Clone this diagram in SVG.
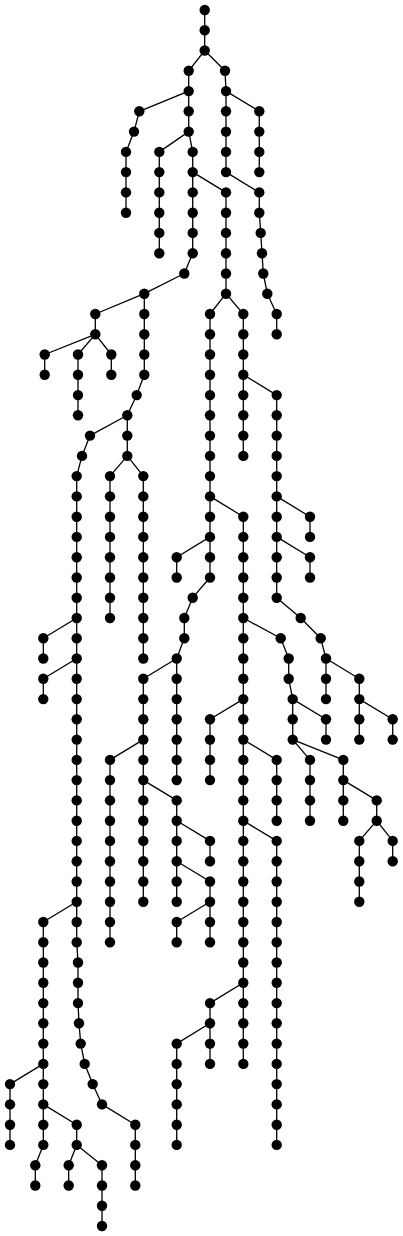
<svg xmlns="http://www.w3.org/2000/svg" width="403" height="1236" viewBox="0 0 403 1236">
<style>
.e path{fill:none;stroke:#000;stroke-width:1.3;stroke-linejoin:round}
circle{fill:#000}
</style>
<rect width="403" height="1236" fill="#fff"/>
<g id="connectors" class="e">
<path d="M204.7 10V50.5"/>
<path d="M204.7 50.5L188.7 70.8L188.7 131.6L192.7 151.9L192.7 253.2L184.3 273.5L144.3 293.7L144.3 374.8L136.7 395.1L127.3 415.3L127.3 455.9L143.3 476.1L143.3 658.5"/>
<path d="M188.7 91.1L139.3 111.3L134 131.6L126 151.9L126 212.7"/>
<path d="M188.7 131.6L159.3 151.9L159.3 253.2"/>
<path d="M192.7 172.1L226 192.4L226 293.7L243.3 314L243.3 455.9"/>
<path d="M226 293.7L210 314L210 577.5L192.7 597.7L184.3 618L184.3 638.3L176.7 658.5L176.7 780.1"/>
<path d="M243.3 374.8L276.7 395.1L276.7 597.7L300.7 618L320.7 638.3L326 658.5L326 699.1"/>
<path d="M144.3 293.7L95.3 314L95.3 334.3L78 354.5L78 415.3"/>
<path d="M95.3 334.3L44.7 354.5L44.7 374.8"/>
<path d="M95.3 334.3L111.3 354.5L111.3 374.8"/>
<path d="M127.3 415.3L90 435.6L82 455.9L76.7 476.1L76.7 942.3L78 962.5L78 1003.1L79 1023.3L80.7 1043.6L84.7 1063.9L92.7 1084.1L102 1104.4L135.3 1124.7L135.3 1185.5"/>
<path d="M127.3 455.9L110 476.1L110 618"/>
<path d="M226 91.1L259.3 111.3L259.3 172.1"/>
<path d="M204.7 50.5L225 70.8L226 91.1L226 172.1"/>
<path d="M226 172.1L259.3 192.4L259.3 212.7L260.7 232.9L262 253.2L263.3 273.5L267.3 293.7L276.7 314L276.7 334.3"/>
<path d="M276.7 496.4L310 516.7L310 536.9"/>
<path d="M276.7 536.9L310 557.2L310 577.5"/>
<path d="M210 536.9L176.7 557.2L176.7 577.5"/>
<path d="M210 496.4L243.3 516.7L243.3 1063.9"/>
<path d="M243.3 618L280.7 638.3L288.7 658.5L288.7 678.8L292.7 699.1L292.7 739.6"/>
<path d="M292.7 699.1L326 719.3L326 739.6"/>
<path d="M292.7 739.6L310 759.9L310 820.7"/>
<path d="M292.7 739.6L343.3 759.9L343.3 820.7"/>
<path d="M343.3 780.1L376.7 800.4L376.7 820.7"/>
<path d="M376.7 820.7L359.3 840.9L359.3 901.7"/>
<path d="M376.7 820.7L392.7 840.9L392.7 861.2"/>
<path d="M326 658.5L359.3 678.8L359.3 739.6"/>
<path d="M359.3 699.1L392.7 719.3L392.7 739.6"/>
<path d="M76.7 618L43.3 638.3L43.3 658.5"/>
<path d="M76.7 658.5L43.3 678.8L43.3 699.1"/>
<path d="M176.7 658.5L143.3 678.8L143.3 901.7"/>
<path d="M143.3 739.6L110 759.9L110 942.3"/>
<path d="M143.3 780.1L176.7 800.4L176.7 901.7"/>
<path d="M243.3 699.1L210 719.3L210 780.1"/>
<path d="M243.3 739.6L276.7 759.9L276.7 820.7"/>
<path d="M243.3 820.7L276.7 840.9L276.7 1144.9"/>
<path d="M176.7 820.7L210 840.9L210 861.2"/>
<path d="M176.7 861.2L210 881.5L210 942.3"/>
<path d="M210 901.7L176.7 922L176.7 942.3"/>
<path d="M76.7 901.7L43.3 922L43.3 1144.9L35.3 1165.2L35.3 1185.5"/>
<path d="M43.3 1063.9L10 1084.1L10 1144.9"/>
<path d="M43.3 1104.4L76.7 1124.7L76.7 1144.9L68.7 1165.2L68.7 1185.5"/>
<path d="M76.7 1144.9L102 1165.2L102 1226"/>
<path d="M243.3 982.8L210 1003.1L210 1063.9"/>
<path d="M210 1023.3L176.7 1043.6L176.7 1144.9"/>
</g>
<g id="nodes">
<g id="n0_1"><circle cx="204.7" cy="10" r="5.2"/></g>
<g id="n0_2"><circle cx="204.7" cy="30.3" r="5.2"/></g>
<g id="n0_3"><circle cx="204.7" cy="50.5" r="5.2"/></g>
<g id="n1_1"><circle cx="188.7" cy="70.8" r="5.2"/></g>
<g id="n1_2"><circle cx="188.7" cy="91.1" r="5.2"/></g>
<g id="n1_3"><circle cx="188.7" cy="111.3" r="5.2"/></g>
<g id="n1_4"><circle cx="188.7" cy="131.6" r="5.2"/></g>
<g id="n1_5"><circle cx="192.7" cy="151.9" r="5.2"/></g>
<g id="n1_6"><circle cx="192.7" cy="172.1" r="5.2"/></g>
<g id="n1_7"><circle cx="192.7" cy="192.4" r="5.2"/></g>
<g id="n1_8"><circle cx="192.7" cy="212.7" r="5.2"/></g>
<g id="n1_9"><circle cx="192.7" cy="232.9" r="5.2"/></g>
<g id="n1_10"><circle cx="192.7" cy="253.2" r="5.2"/></g>
<g id="n1_11"><circle cx="184.3" cy="273.5" r="5.2"/></g>
<g id="n1_12"><circle cx="144.3" cy="293.7" r="5.2"/></g>
<g id="n1_13"><circle cx="144.3" cy="314" r="5.2"/></g>
<g id="n1_14"><circle cx="144.3" cy="334.3" r="5.2"/></g>
<g id="n1_15"><circle cx="144.3" cy="354.5" r="5.2"/></g>
<g id="n1_16"><circle cx="144.3" cy="374.8" r="5.2"/></g>
<g id="n1_17"><circle cx="136.7" cy="395.1" r="5.2"/></g>
<g id="n1_18"><circle cx="127.3" cy="415.3" r="5.2"/></g>
<g id="n1_19"><circle cx="127.3" cy="435.6" r="5.2"/></g>
<g id="n1_20"><circle cx="127.3" cy="455.9" r="5.2"/></g>
<g id="n1_21"><circle cx="143.3" cy="476.1" r="5.2"/></g>
<g id="n1_22"><circle cx="143.3" cy="496.4" r="5.2"/></g>
<g id="n1_23"><circle cx="143.3" cy="516.7" r="5.2"/></g>
<g id="n1_24"><circle cx="143.3" cy="536.9" r="5.2"/></g>
<g id="n1_25"><circle cx="143.3" cy="557.2" r="5.2"/></g>
<g id="n1_26"><circle cx="143.3" cy="577.5" r="5.2"/></g>
<g id="n1_27"><circle cx="143.3" cy="597.7" r="5.2"/></g>
<g id="n1_28"><circle cx="143.3" cy="618" r="5.2"/></g>
<g id="n1_29"><circle cx="143.3" cy="638.3" r="5.2"/></g>
<g id="n1_30"><circle cx="143.3" cy="658.5" r="5.2"/></g>
<g id="n2_1"><circle cx="139.3" cy="111.3" r="5.2"/></g>
<g id="n2_2"><circle cx="134" cy="131.6" r="5.2"/></g>
<g id="n2_3"><circle cx="126" cy="151.9" r="5.2"/></g>
<g id="n2_4"><circle cx="126" cy="172.1" r="5.2"/></g>
<g id="n2_5"><circle cx="126" cy="192.4" r="5.2"/></g>
<g id="n2_6"><circle cx="126" cy="212.7" r="5.2"/></g>
<g id="n3_1"><circle cx="159.3" cy="151.9" r="5.2"/></g>
<g id="n3_2"><circle cx="159.3" cy="172.1" r="5.2"/></g>
<g id="n3_3"><circle cx="159.3" cy="192.4" r="5.2"/></g>
<g id="n3_4"><circle cx="159.3" cy="212.7" r="5.2"/></g>
<g id="n3_5"><circle cx="159.3" cy="232.9" r="5.2"/></g>
<g id="n3_6"><circle cx="159.3" cy="253.2" r="5.2"/></g>
<g id="n4_1"><circle cx="226" cy="192.4" r="5.2"/></g>
<g id="n4_2"><circle cx="226" cy="212.7" r="5.2"/></g>
<g id="n4_3"><circle cx="226" cy="232.9" r="5.2"/></g>
<g id="n4_4"><circle cx="226" cy="253.2" r="5.2"/></g>
<g id="n4_5"><circle cx="226" cy="273.5" r="5.2"/></g>
<g id="n4_6"><circle cx="226" cy="293.7" r="5.2"/></g>
<g id="n4_7"><circle cx="243.3" cy="314" r="5.2"/></g>
<g id="n4_8"><circle cx="243.3" cy="334.3" r="5.2"/></g>
<g id="n4_9"><circle cx="243.3" cy="354.5" r="5.2"/></g>
<g id="n4_10"><circle cx="243.3" cy="374.8" r="5.2"/></g>
<g id="n4_11"><circle cx="243.3" cy="395.1" r="5.2"/></g>
<g id="n4_12"><circle cx="243.3" cy="415.3" r="5.2"/></g>
<g id="n4_13"><circle cx="243.3" cy="435.6" r="5.2"/></g>
<g id="n4_14"><circle cx="243.3" cy="455.9" r="5.2"/></g>
<g id="n5_1"><circle cx="210" cy="314" r="5.2"/></g>
<g id="n5_2"><circle cx="210" cy="334.3" r="5.2"/></g>
<g id="n5_3"><circle cx="210" cy="354.5" r="5.2"/></g>
<g id="n5_4"><circle cx="210" cy="374.8" r="5.2"/></g>
<g id="n5_5"><circle cx="210" cy="395.1" r="5.2"/></g>
<g id="n5_6"><circle cx="210" cy="415.3" r="5.2"/></g>
<g id="n5_7"><circle cx="210" cy="435.6" r="5.2"/></g>
<g id="n5_8"><circle cx="210" cy="455.9" r="5.2"/></g>
<g id="n5_9"><circle cx="210" cy="476.1" r="5.2"/></g>
<g id="n5_10"><circle cx="210" cy="496.4" r="5.2"/></g>
<g id="n5_11"><circle cx="210" cy="516.7" r="5.2"/></g>
<g id="n5_12"><circle cx="210" cy="536.9" r="5.2"/></g>
<g id="n5_13"><circle cx="210" cy="557.2" r="5.2"/></g>
<g id="n5_14"><circle cx="210" cy="577.5" r="5.2"/></g>
<g id="n5_15"><circle cx="192.7" cy="597.7" r="5.2"/></g>
<g id="n5_16"><circle cx="184.3" cy="618" r="5.2"/></g>
<g id="n5_17"><circle cx="184.3" cy="638.3" r="5.2"/></g>
<g id="n5_18"><circle cx="176.7" cy="658.5" r="5.2"/></g>
<g id="n5_19"><circle cx="176.7" cy="678.8" r="5.2"/></g>
<g id="n5_20"><circle cx="176.7" cy="699.1" r="5.2"/></g>
<g id="n5_21"><circle cx="176.7" cy="719.3" r="5.2"/></g>
<g id="n5_22"><circle cx="176.7" cy="739.6" r="5.2"/></g>
<g id="n5_23"><circle cx="176.7" cy="759.9" r="5.2"/></g>
<g id="n5_24"><circle cx="176.7" cy="780.1" r="5.2"/></g>
<g id="n6_1"><circle cx="276.7" cy="395.1" r="5.2"/></g>
<g id="n6_2"><circle cx="276.7" cy="415.3" r="5.2"/></g>
<g id="n6_3"><circle cx="276.7" cy="435.6" r="5.2"/></g>
<g id="n6_4"><circle cx="276.7" cy="455.9" r="5.2"/></g>
<g id="n6_5"><circle cx="276.7" cy="476.1" r="5.2"/></g>
<g id="n6_6"><circle cx="276.7" cy="496.4" r="5.2"/></g>
<g id="n6_7"><circle cx="276.7" cy="516.7" r="5.2"/></g>
<g id="n6_8"><circle cx="276.7" cy="536.9" r="5.2"/></g>
<g id="n6_9"><circle cx="276.7" cy="557.2" r="5.2"/></g>
<g id="n6_10"><circle cx="276.7" cy="577.5" r="5.2"/></g>
<g id="n6_11"><circle cx="276.7" cy="597.7" r="5.2"/></g>
<g id="n6_12"><circle cx="300.7" cy="618" r="5.2"/></g>
<g id="n6_13"><circle cx="320.7" cy="638.3" r="5.2"/></g>
<g id="n6_14"><circle cx="326" cy="658.5" r="5.2"/></g>
<g id="n6_15"><circle cx="326" cy="678.8" r="5.2"/></g>
<g id="n6_16"><circle cx="326" cy="699.1" r="5.2"/></g>
<g id="n7_1"><circle cx="95.3" cy="314" r="5.2"/></g>
<g id="n7_2"><circle cx="95.3" cy="334.3" r="5.2"/></g>
<g id="n7_3"><circle cx="78" cy="354.5" r="5.2"/></g>
<g id="n7_4"><circle cx="78" cy="374.8" r="5.2"/></g>
<g id="n7_5"><circle cx="78" cy="395.1" r="5.2"/></g>
<g id="n7_6"><circle cx="78" cy="415.3" r="5.2"/></g>
<g id="n8_1"><circle cx="44.7" cy="354.5" r="5.2"/></g>
<g id="n8_2"><circle cx="44.7" cy="374.8" r="5.2"/></g>
<g id="n9_1"><circle cx="111.3" cy="354.5" r="5.2"/></g>
<g id="n9_2"><circle cx="111.3" cy="374.8" r="5.2"/></g>
<g id="n10_1"><circle cx="90" cy="435.6" r="5.2"/></g>
<g id="n10_2"><circle cx="82" cy="455.9" r="5.2"/></g>
<g id="n10_3"><circle cx="76.7" cy="476.1" r="5.2"/></g>
<g id="n10_4"><circle cx="76.7" cy="496.4" r="5.2"/></g>
<g id="n10_5"><circle cx="76.7" cy="516.7" r="5.2"/></g>
<g id="n10_6"><circle cx="76.7" cy="536.9" r="5.2"/></g>
<g id="n10_7"><circle cx="76.7" cy="557.2" r="5.2"/></g>
<g id="n10_8"><circle cx="76.7" cy="577.5" r="5.2"/></g>
<g id="n10_9"><circle cx="76.7" cy="597.7" r="5.2"/></g>
<g id="n10_10"><circle cx="76.7" cy="618" r="5.2"/></g>
<g id="n10_11"><circle cx="76.7" cy="638.3" r="5.2"/></g>
<g id="n10_12"><circle cx="76.7" cy="658.5" r="5.2"/></g>
<g id="n10_13"><circle cx="76.7" cy="678.8" r="5.2"/></g>
<g id="n10_14"><circle cx="76.7" cy="699.1" r="5.2"/></g>
<g id="n10_15"><circle cx="76.7" cy="719.3" r="5.2"/></g>
<g id="n10_16"><circle cx="76.7" cy="739.6" r="5.2"/></g>
<g id="n10_17"><circle cx="76.7" cy="759.9" r="5.2"/></g>
<g id="n10_18"><circle cx="76.7" cy="780.1" r="5.2"/></g>
<g id="n10_19"><circle cx="76.7" cy="800.4" r="5.2"/></g>
<g id="n10_20"><circle cx="76.7" cy="820.7" r="5.2"/></g>
<g id="n10_21"><circle cx="76.7" cy="840.9" r="5.2"/></g>
<g id="n10_22"><circle cx="76.7" cy="861.2" r="5.2"/></g>
<g id="n10_23"><circle cx="76.7" cy="881.5" r="5.2"/></g>
<g id="n10_24"><circle cx="76.7" cy="901.7" r="5.2"/></g>
<g id="n10_25"><circle cx="76.7" cy="922" r="5.2"/></g>
<g id="n10_26"><circle cx="76.7" cy="942.3" r="5.2"/></g>
<g id="n10_27"><circle cx="78" cy="962.5" r="5.2"/></g>
<g id="n10_28"><circle cx="78" cy="982.8" r="5.2"/></g>
<g id="n10_29"><circle cx="78" cy="1003.1" r="5.2"/></g>
<g id="n10_30"><circle cx="79" cy="1023.3" r="5.2"/></g>
<g id="n10_31"><circle cx="80.7" cy="1043.6" r="5.2"/></g>
<g id="n10_32"><circle cx="84.7" cy="1063.9" r="5.2"/></g>
<g id="n10_33"><circle cx="92.7" cy="1084.1" r="5.2"/></g>
<g id="n10_34"><circle cx="102" cy="1104.4" r="5.2"/></g>
<g id="n10_35"><circle cx="135.3" cy="1124.7" r="5.2"/></g>
<g id="n10_36"><circle cx="135.3" cy="1144.9" r="5.2"/></g>
<g id="n10_37"><circle cx="135.3" cy="1165.2" r="5.2"/></g>
<g id="n10_38"><circle cx="135.3" cy="1185.5" r="5.2"/></g>
<g id="n11_1"><circle cx="110" cy="476.1" r="5.2"/></g>
<g id="n11_2"><circle cx="110" cy="496.4" r="5.2"/></g>
<g id="n11_3"><circle cx="110" cy="516.7" r="5.2"/></g>
<g id="n11_4"><circle cx="110" cy="536.9" r="5.2"/></g>
<g id="n11_5"><circle cx="110" cy="557.2" r="5.2"/></g>
<g id="n11_6"><circle cx="110" cy="577.5" r="5.2"/></g>
<g id="n11_7"><circle cx="110" cy="597.7" r="5.2"/></g>
<g id="n11_8"><circle cx="110" cy="618" r="5.2"/></g>
<g id="n12_1"><circle cx="259.3" cy="111.3" r="5.2"/></g>
<g id="n12_2"><circle cx="259.3" cy="131.6" r="5.2"/></g>
<g id="n12_3"><circle cx="259.3" cy="151.9" r="5.2"/></g>
<g id="n12_4"><circle cx="259.3" cy="172.1" r="5.2"/></g>
<g id="n13_1"><circle cx="225" cy="70.8" r="5.2"/></g>
<g id="n13_2"><circle cx="226" cy="91.1" r="5.2"/></g>
<g id="n13_3"><circle cx="226" cy="111.3" r="5.2"/></g>
<g id="n13_4"><circle cx="226" cy="131.6" r="5.2"/></g>
<g id="n13_5"><circle cx="226" cy="151.9" r="5.2"/></g>
<g id="n13_6"><circle cx="226" cy="172.1" r="5.2"/></g>
<g id="n14_1"><circle cx="259.3" cy="192.4" r="5.2"/></g>
<g id="n14_2"><circle cx="259.3" cy="212.7" r="5.2"/></g>
<g id="n14_3"><circle cx="260.7" cy="232.9" r="5.2"/></g>
<g id="n14_4"><circle cx="262" cy="253.2" r="5.2"/></g>
<g id="n14_5"><circle cx="263.3" cy="273.5" r="5.2"/></g>
<g id="n14_6"><circle cx="267.3" cy="293.7" r="5.2"/></g>
<g id="n14_7"><circle cx="276.7" cy="314" r="5.2"/></g>
<g id="n14_8"><circle cx="276.7" cy="334.3" r="5.2"/></g>
<g id="n15_1"><circle cx="310" cy="516.7" r="5.2"/></g>
<g id="n15_2"><circle cx="310" cy="536.9" r="5.2"/></g>
<g id="n16_1"><circle cx="310" cy="557.2" r="5.2"/></g>
<g id="n16_2"><circle cx="310" cy="577.5" r="5.2"/></g>
<g id="n17_1"><circle cx="176.7" cy="557.2" r="5.2"/></g>
<g id="n17_2"><circle cx="176.7" cy="577.5" r="5.2"/></g>
<g id="n18_1"><circle cx="243.3" cy="516.7" r="5.2"/></g>
<g id="n18_2"><circle cx="243.3" cy="536.9" r="5.2"/></g>
<g id="n18_3"><circle cx="243.3" cy="557.2" r="5.2"/></g>
<g id="n18_4"><circle cx="243.3" cy="577.5" r="5.2"/></g>
<g id="n18_5"><circle cx="243.3" cy="597.7" r="5.2"/></g>
<g id="n18_6"><circle cx="243.3" cy="618" r="5.2"/></g>
<g id="n18_7"><circle cx="243.3" cy="638.3" r="5.2"/></g>
<g id="n18_8"><circle cx="243.3" cy="658.5" r="5.2"/></g>
<g id="n18_9"><circle cx="243.3" cy="678.8" r="5.2"/></g>
<g id="n18_10"><circle cx="243.3" cy="699.1" r="5.2"/></g>
<g id="n18_11"><circle cx="243.3" cy="719.3" r="5.2"/></g>
<g id="n18_12"><circle cx="243.3" cy="739.6" r="5.2"/></g>
<g id="n18_13"><circle cx="243.3" cy="759.9" r="5.2"/></g>
<g id="n18_14"><circle cx="243.3" cy="780.1" r="5.2"/></g>
<g id="n18_15"><circle cx="243.3" cy="800.4" r="5.2"/></g>
<g id="n18_16"><circle cx="243.3" cy="820.7" r="5.2"/></g>
<g id="n18_17"><circle cx="243.3" cy="840.9" r="5.2"/></g>
<g id="n18_18"><circle cx="243.3" cy="861.2" r="5.2"/></g>
<g id="n18_19"><circle cx="243.3" cy="881.5" r="5.2"/></g>
<g id="n18_20"><circle cx="243.3" cy="901.7" r="5.2"/></g>
<g id="n18_21"><circle cx="243.3" cy="922" r="5.2"/></g>
<g id="n18_22"><circle cx="243.3" cy="942.3" r="5.2"/></g>
<g id="n18_23"><circle cx="243.3" cy="962.5" r="5.2"/></g>
<g id="n18_24"><circle cx="243.3" cy="982.8" r="5.2"/></g>
<g id="n18_25"><circle cx="243.3" cy="1003.1" r="5.2"/></g>
<g id="n18_26"><circle cx="243.3" cy="1023.3" r="5.2"/></g>
<g id="n18_27"><circle cx="243.3" cy="1043.6" r="5.2"/></g>
<g id="n18_28"><circle cx="243.3" cy="1063.9" r="5.2"/></g>
<g id="n19_1"><circle cx="280.7" cy="638.3" r="5.2"/></g>
<g id="n19_2"><circle cx="288.7" cy="658.5" r="5.2"/></g>
<g id="n19_3"><circle cx="288.7" cy="678.8" r="5.2"/></g>
<g id="n19_4"><circle cx="292.7" cy="699.1" r="5.2"/></g>
<g id="n19_5"><circle cx="292.7" cy="719.3" r="5.2"/></g>
<g id="n19_6"><circle cx="292.7" cy="739.6" r="5.2"/></g>
<g id="n20_1"><circle cx="326" cy="719.3" r="5.2"/></g>
<g id="n20_2"><circle cx="326" cy="739.6" r="5.2"/></g>
<g id="n21_1"><circle cx="310" cy="759.9" r="5.2"/></g>
<g id="n21_2"><circle cx="310" cy="780.1" r="5.2"/></g>
<g id="n21_3"><circle cx="310" cy="800.4" r="5.2"/></g>
<g id="n21_4"><circle cx="310" cy="820.7" r="5.2"/></g>
<g id="n22_1"><circle cx="343.3" cy="759.9" r="5.2"/></g>
<g id="n22_2"><circle cx="343.3" cy="780.1" r="5.2"/></g>
<g id="n22_3"><circle cx="343.3" cy="800.4" r="5.2"/></g>
<g id="n22_4"><circle cx="343.3" cy="820.7" r="5.2"/></g>
<g id="n23_1"><circle cx="376.7" cy="800.4" r="5.2"/></g>
<g id="n23_2"><circle cx="376.7" cy="820.7" r="5.2"/></g>
<g id="n24_1"><circle cx="359.3" cy="840.9" r="5.2"/></g>
<g id="n24_2"><circle cx="359.3" cy="861.2" r="5.2"/></g>
<g id="n24_3"><circle cx="359.3" cy="881.5" r="5.2"/></g>
<g id="n24_4"><circle cx="359.3" cy="901.7" r="5.2"/></g>
<g id="n25_1"><circle cx="392.7" cy="840.9" r="5.2"/></g>
<g id="n25_2"><circle cx="392.7" cy="861.2" r="5.2"/></g>
<g id="n26_1"><circle cx="359.3" cy="678.8" r="5.2"/></g>
<g id="n26_2"><circle cx="359.3" cy="699.1" r="5.2"/></g>
<g id="n26_3"><circle cx="359.3" cy="719.3" r="5.2"/></g>
<g id="n26_4"><circle cx="359.3" cy="739.6" r="5.2"/></g>
<g id="n27_1"><circle cx="392.7" cy="719.3" r="5.2"/></g>
<g id="n27_2"><circle cx="392.7" cy="739.6" r="5.2"/></g>
<g id="n28_1"><circle cx="43.3" cy="638.3" r="5.2"/></g>
<g id="n28_2"><circle cx="43.3" cy="658.5" r="5.2"/></g>
<g id="n29_1"><circle cx="43.3" cy="678.8" r="5.2"/></g>
<g id="n29_2"><circle cx="43.3" cy="699.1" r="5.2"/></g>
<g id="n30_1"><circle cx="143.3" cy="678.8" r="5.2"/></g>
<g id="n30_2"><circle cx="143.3" cy="699.1" r="5.2"/></g>
<g id="n30_3"><circle cx="143.3" cy="719.3" r="5.2"/></g>
<g id="n30_4"><circle cx="143.3" cy="739.6" r="5.2"/></g>
<g id="n30_5"><circle cx="143.3" cy="759.9" r="5.2"/></g>
<g id="n30_6"><circle cx="143.3" cy="780.1" r="5.2"/></g>
<g id="n30_7"><circle cx="143.3" cy="800.4" r="5.2"/></g>
<g id="n30_8"><circle cx="143.3" cy="820.7" r="5.2"/></g>
<g id="n30_9"><circle cx="143.3" cy="840.9" r="5.2"/></g>
<g id="n30_10"><circle cx="143.3" cy="861.2" r="5.2"/></g>
<g id="n30_11"><circle cx="143.3" cy="881.5" r="5.2"/></g>
<g id="n30_12"><circle cx="143.3" cy="901.7" r="5.2"/></g>
<g id="n31_1"><circle cx="110" cy="759.9" r="5.2"/></g>
<g id="n31_2"><circle cx="110" cy="780.1" r="5.2"/></g>
<g id="n31_3"><circle cx="110" cy="800.4" r="5.2"/></g>
<g id="n31_4"><circle cx="110" cy="820.7" r="5.2"/></g>
<g id="n31_5"><circle cx="110" cy="840.9" r="5.2"/></g>
<g id="n31_6"><circle cx="110" cy="861.2" r="5.2"/></g>
<g id="n31_7"><circle cx="110" cy="881.5" r="5.2"/></g>
<g id="n31_8"><circle cx="110" cy="901.7" r="5.2"/></g>
<g id="n31_9"><circle cx="110" cy="922" r="5.2"/></g>
<g id="n31_10"><circle cx="110" cy="942.3" r="5.2"/></g>
<g id="n32_1"><circle cx="176.7" cy="800.4" r="5.2"/></g>
<g id="n32_2"><circle cx="176.7" cy="820.7" r="5.2"/></g>
<g id="n32_3"><circle cx="176.7" cy="840.9" r="5.2"/></g>
<g id="n32_4"><circle cx="176.7" cy="861.2" r="5.2"/></g>
<g id="n32_5"><circle cx="176.7" cy="881.5" r="5.2"/></g>
<g id="n32_6"><circle cx="176.7" cy="901.7" r="5.2"/></g>
<g id="n33_1"><circle cx="210" cy="719.3" r="5.2"/></g>
<g id="n33_2"><circle cx="210" cy="739.6" r="5.2"/></g>
<g id="n33_3"><circle cx="210" cy="759.9" r="5.2"/></g>
<g id="n33_4"><circle cx="210" cy="780.1" r="5.2"/></g>
<g id="n34_1"><circle cx="276.7" cy="759.9" r="5.2"/></g>
<g id="n34_2"><circle cx="276.7" cy="780.1" r="5.2"/></g>
<g id="n34_3"><circle cx="276.7" cy="800.4" r="5.2"/></g>
<g id="n34_4"><circle cx="276.7" cy="820.7" r="5.2"/></g>
<g id="n35_1"><circle cx="276.7" cy="840.9" r="5.2"/></g>
<g id="n35_2"><circle cx="276.7" cy="861.2" r="5.2"/></g>
<g id="n35_3"><circle cx="276.7" cy="881.5" r="5.2"/></g>
<g id="n35_4"><circle cx="276.7" cy="901.7" r="5.2"/></g>
<g id="n35_5"><circle cx="276.7" cy="922" r="5.2"/></g>
<g id="n35_6"><circle cx="276.7" cy="942.3" r="5.2"/></g>
<g id="n35_7"><circle cx="276.7" cy="962.5" r="5.2"/></g>
<g id="n35_8"><circle cx="276.7" cy="982.8" r="5.2"/></g>
<g id="n35_9"><circle cx="276.7" cy="1003.1" r="5.2"/></g>
<g id="n35_10"><circle cx="276.7" cy="1023.3" r="5.2"/></g>
<g id="n35_11"><circle cx="276.7" cy="1043.6" r="5.2"/></g>
<g id="n35_12"><circle cx="276.7" cy="1063.9" r="5.2"/></g>
<g id="n35_13"><circle cx="276.7" cy="1084.1" r="5.2"/></g>
<g id="n35_14"><circle cx="276.7" cy="1104.4" r="5.2"/></g>
<g id="n35_15"><circle cx="276.7" cy="1124.7" r="5.2"/></g>
<g id="n35_16"><circle cx="276.7" cy="1144.9" r="5.2"/></g>
<g id="n36_1"><circle cx="210" cy="840.9" r="5.2"/></g>
<g id="n36_2"><circle cx="210" cy="861.2" r="5.2"/></g>
<g id="n37_1"><circle cx="210" cy="881.5" r="5.2"/></g>
<g id="n37_2"><circle cx="210" cy="901.7" r="5.2"/></g>
<g id="n37_3"><circle cx="210" cy="922" r="5.2"/></g>
<g id="n37_4"><circle cx="210" cy="942.3" r="5.2"/></g>
<g id="n38_1"><circle cx="176.7" cy="922" r="5.2"/></g>
<g id="n38_2"><circle cx="176.7" cy="942.3" r="5.2"/></g>
<g id="n39_1"><circle cx="43.3" cy="922" r="5.2"/></g>
<g id="n39_2"><circle cx="43.3" cy="942.3" r="5.2"/></g>
<g id="n39_3"><circle cx="43.3" cy="962.5" r="5.2"/></g>
<g id="n39_4"><circle cx="43.3" cy="982.8" r="5.2"/></g>
<g id="n39_5"><circle cx="43.3" cy="1003.1" r="5.2"/></g>
<g id="n39_6"><circle cx="43.3" cy="1023.3" r="5.2"/></g>
<g id="n39_7"><circle cx="43.3" cy="1043.6" r="5.2"/></g>
<g id="n39_8"><circle cx="43.3" cy="1063.9" r="5.2"/></g>
<g id="n39_9"><circle cx="43.3" cy="1084.1" r="5.2"/></g>
<g id="n39_10"><circle cx="43.3" cy="1104.4" r="5.2"/></g>
<g id="n39_11"><circle cx="43.3" cy="1124.7" r="5.2"/></g>
<g id="n39_12"><circle cx="43.3" cy="1144.9" r="5.2"/></g>
<g id="n39_13"><circle cx="35.3" cy="1165.2" r="5.2"/></g>
<g id="n39_14"><circle cx="35.3" cy="1185.5" r="5.2"/></g>
<g id="n40_1"><circle cx="10" cy="1084.1" r="5.2"/></g>
<g id="n40_2"><circle cx="10" cy="1104.4" r="5.2"/></g>
<g id="n40_3"><circle cx="10" cy="1124.7" r="5.2"/></g>
<g id="n40_4"><circle cx="10" cy="1144.9" r="5.2"/></g>
<g id="n41_1"><circle cx="76.7" cy="1124.7" r="5.2"/></g>
<g id="n41_2"><circle cx="76.7" cy="1144.9" r="5.2"/></g>
<g id="n41_3"><circle cx="68.7" cy="1165.2" r="5.2"/></g>
<g id="n41_4"><circle cx="68.7" cy="1185.5" r="5.2"/></g>
<g id="n42_1"><circle cx="102" cy="1165.2" r="5.2"/></g>
<g id="n42_2"><circle cx="102" cy="1185.5" r="5.2"/></g>
<g id="n42_3"><circle cx="102" cy="1205.7" r="5.2"/></g>
<g id="n42_4"><circle cx="102" cy="1226" r="5.2"/></g>
<g id="n43_1"><circle cx="210" cy="1003.1" r="5.2"/></g>
<g id="n43_2"><circle cx="210" cy="1023.3" r="5.2"/></g>
<g id="n43_3"><circle cx="210" cy="1043.6" r="5.2"/></g>
<g id="n43_4"><circle cx="210" cy="1063.9" r="5.2"/></g>
<g id="n44_1"><circle cx="176.7" cy="1043.6" r="5.2"/></g>
<g id="n44_2"><circle cx="176.7" cy="1063.9" r="5.2"/></g>
<g id="n44_3"><circle cx="176.7" cy="1084.1" r="5.2"/></g>
<g id="n44_4"><circle cx="176.7" cy="1104.4" r="5.2"/></g>
<g id="n44_5"><circle cx="176.7" cy="1124.7" r="5.2"/></g>
<g id="n44_6"><circle cx="176.7" cy="1144.9" r="5.2"/></g>
</g>
</svg>
